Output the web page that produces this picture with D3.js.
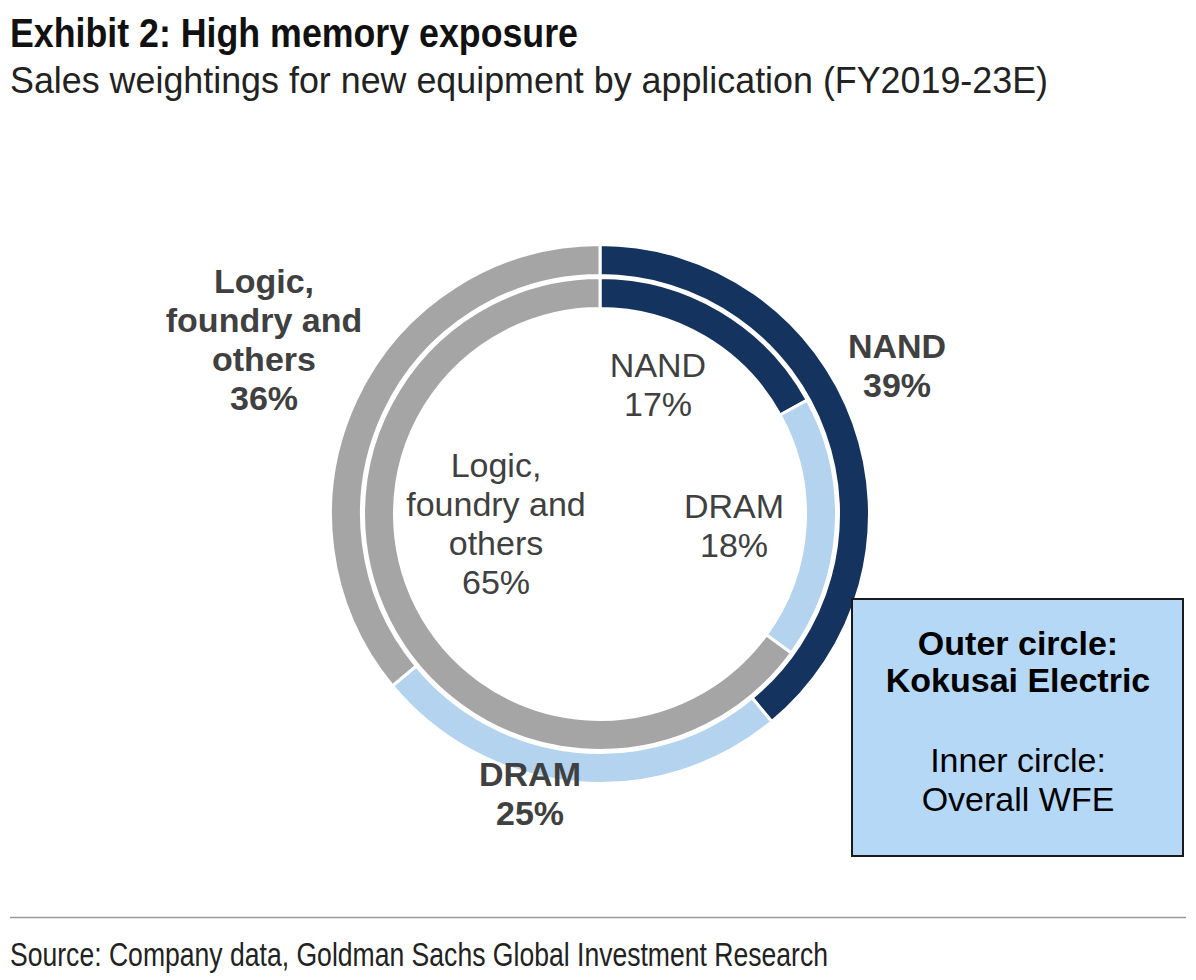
<!DOCTYPE html>
<html>
<head>
<meta charset="utf-8">
<script src="https://cdn.jsdelivr.net/npm/d3@7"></script>
<style>
  html, body { margin: 0; padding: 0; background: #fff; }
  svg { display: block; }
</style>
</head>
<body>
<svg id="chart" width="1196" height="980"></svg>
<script>
// ---- Data ----
const categories = ["NAND", "DRAM", "Logic, foundry and others"];
const outerValues = [39, 25, 36];   // Kokusai Electric
const innerValues = [17, 18, 65];   // Overall WFE
const outerLabelLines = [["NAND", "39%"], ["DRAM", "25%"], ["Logic,", "foundry and", "others", "36%"]];
const innerLabelLines = [["NAND", "17%"], ["DRAM", "18%"], ["Logic,", "foundry and", "others", "65%"]];
const titleText = "Exhibit 2: High memory exposure";
const subtitleText = "Sales weightings for new equipment by application (FY2019-23E)";
const sourceText = "Source: Company data, Goldman Sachs Global Investment Research";
const boxLines = [["Outer circle:", true], ["Kokusai Electric", true], ["", false], ["Inner circle:", false], ["Overall WFE", false]];

// ---- Setup ----
const svg = d3.select("#chart");
const narrow = "'Liberation Sans Narrow', 'Arial Narrow', 'Liberation Sans', Arial, sans-serif";
const sans = "'Liberation Sans', Arial, Helvetica, sans-serif";
const color = d3.scaleOrdinal().domain(categories).range(["#14335E", "#B3D3EF", "#A5A5A5"]);
const textColor = "#404040";

function fitText(sel, width) {
  sel.each(function () {
    const len = this.getComputedTextLength();
    if (Math.abs(len - width) > 1) {
      d3.select(this).attr("textLength", width).attr("lengthAdjust", "spacingAndGlyphs");
    }
  });
}

// Title & subtitle
svg.append("text").attr("x", 10).attr("y", 47)
  .attr("font-family", narrow).attr("font-weight", "bold").attr("font-size", 41)
  .attr("fill", "#111").text(titleText).call(fitText, 568);
svg.append("text").attr("x", 10).attr("y", 93)
  .attr("font-family", narrow).attr("font-size", 36)
  .attr("fill", "#222").text(subtitleText).call(fitText, 1038);

// ---- Donuts ----
const cx = 600, cy = 514;
const pie = d3.pie().sort(null).value(d => d);
const g = svg.append("g").attr("transform", `translate(${cx},${cy})`);

const outerArc = d3.arc().innerRadius(238.5).outerRadius(269.5);
const innerArc = d3.arc().innerRadius(205.5).outerRadius(236.5);

g.append("g").selectAll("path").data(pie(outerValues)).join("path")
  .attr("d", outerArc)
  .attr("fill", (d, i) => color(categories[i]))
  .attr("stroke", "#fff").attr("stroke-width", 3);

g.append("g").selectAll("path").data(pie(innerValues)).join("path")
  .attr("d", innerArc)
  .attr("fill", (d, i) => color(categories[i]))
  .attr("stroke", "#fff").attr("stroke-width", 3);

// ---- Labels ----
const lineH = 39;
function drawLabel(lines, x, yFirstBaseline, bold) {
  const t = svg.append("text")
    .attr("font-family", sans).attr("font-size", 34)
    .attr("font-weight", bold ? "bold" : "normal")
    .attr("fill", textColor).attr("text-anchor", "middle");
  lines.forEach((l, i) => {
    t.append("tspan").attr("x", x).attr("y", yFirstBaseline + i * lineH).text(l);
  });
}
// outer labels (bold)
const outerLabelPos = [[897, 358], [530, 786], [264, 293]];
outerLabelLines.forEach((lines, i) => drawLabel(lines, outerLabelPos[i][0], outerLabelPos[i][1], true));
// inner labels (regular)
const innerLabelPos = [[658, 377], [734, 518], [496, 477]];
innerLabelLines.forEach((lines, i) => drawLabel(lines, innerLabelPos[i][0], innerLabelPos[i][1], false));

// ---- Annotation box ----
svg.append("rect").attr("x", 852).attr("y", 599).attr("width", 331).attr("height", 257)
  .attr("fill", "#B6D8F7").attr("stroke", "#1a1a1a").attr("stroke-width", 2);
const bt = svg.append("text").attr("font-family", sans).attr("font-size", 34)
  .attr("fill", "#000").attr("text-anchor", "middle");
const boxBaselines = [655, 692, null, 772, 811];
boxLines.forEach((b, i) => {
  if (!b[0]) return;
  bt.append("tspan").attr("x", 1018).attr("y", boxBaselines[i])
    .attr("font-weight", b[1] ? "bold" : "normal").text(b[0]);
});

// ---- Footer ----
svg.append("line").attr("x1", 10).attr("x2", 1186).attr("y1", 917.5).attr("y2", 917.5)
  .attr("stroke", "#9a9a9a").attr("stroke-width", 1.5);
svg.append("text").attr("x", 10).attr("y", 966)
  .attr("font-family", narrow).attr("font-size", 33)
  .attr("fill", "#222").text(sourceText).call(fitText, 818);
</script>
</body>
</html>
